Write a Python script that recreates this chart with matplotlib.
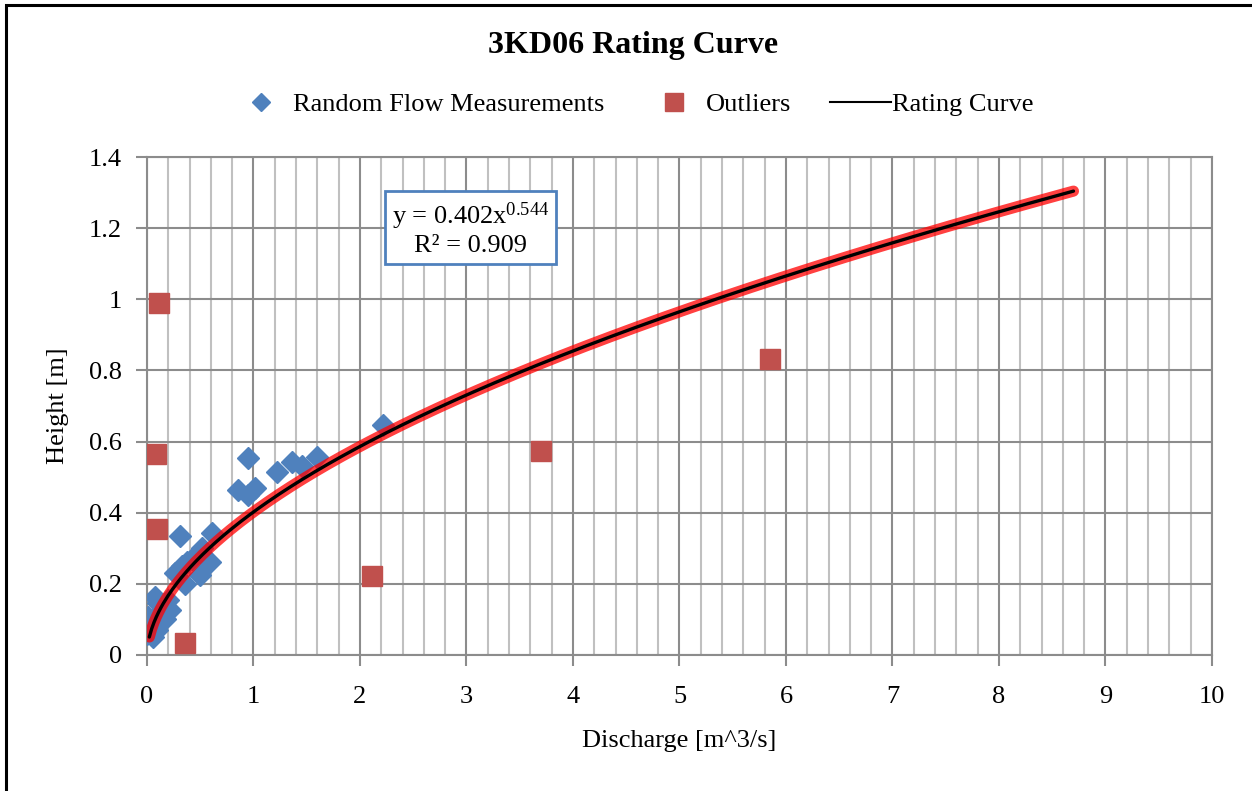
import numpy as np
import matplotlib
matplotlib.use("Agg")
import matplotlib.pyplot as plt
from matplotlib.patches import Rectangle
from matplotlib.lines import Line2D

plt.rcParams['font.family'] = ['Liberation Serif', 'DejaVu Serif']
plt.rcParams['mathtext.fontset'] = 'custom'
plt.rcParams['mathtext.rm'] = 'Liberation Serif'
plt.rcParams['mathtext.it'] = 'Liberation Serif:italic'

# random flow measurements (discharge m^3/s, height m)
meas_q = [0.00, 0.01, 0.03, 0.06, 0.09, 0.075, 0.10, 0.12, 0.17, 0.20, 0.22,
          0.26, 0.33, 0.36, 0.31, 0.38, 0.42, 0.50, 0.52, 0.59, 0.61,
          0.85, 0.95, 1.01, 0.95, 1.22, 1.36, 1.46, 1.60, 2.22]
meas_h = [0.06, 0.107, 0.08, 0.05, 0.07, 0.163, 0.146, 0.12, 0.10, 0.155, 0.127,
          0.23, 0.25, 0.20, 0.335, 0.26, 0.27, 0.225, 0.30, 0.26, 0.343,
          0.464, 0.45, 0.47, 0.555, 0.515, 0.543, 0.53, 0.557, 0.647]

# outliers
out_q = [0.11, 0.085, 0.09, 0.36, 2.11, 3.70, 5.85]
out_h = [0.99, 0.566, 0.355, 0.034, 0.222, 0.574, 0.832]

# power trendline shown on the chart
coef_a = 0.402
coef_b = 0.544
q_min, q_max = 0.022, 8.70

fig = plt.figure(figsize=(12.52, 7.91), dpi=100)
ax = fig.add_axes([0.1174, 0.172, 0.8506, 0.6295])

q = np.linspace(q_min, q_max, 400)
h = coef_a * q ** coef_b
ax.plot(q, h, color='#ff0000', lw=8, alpha=0.75, solid_capstyle='round', zorder=4)
ax.plot(q, h, color='black', lw=2.4, solid_capstyle='round', zorder=5)

ax.plot(meas_q, meas_h, 'D', color='#4F81BD', ms=11, mec='#4F81BD', ls='none', zorder=3)
ax.plot(out_q, out_h, 's', color='#C0504D', ms=14, mec='#C0504D', ls='none', zorder=3)

ax.set_xlim(0, 10)
ax.set_ylim(0, 1.4)
ax.set_xticks(np.arange(0, 11, 1))
ax.set_xticks(np.arange(0, 10.01, 0.2), minor=True)
ax.set_yticks(np.arange(0, 1.41, 0.2))
ax.set_yticklabels(['0', '0.2', '0.4', '0.6', '0.8', '1', '1.2', '1.4'])
ax.grid(which='major', axis='both', color='#8c8c8c', lw=1.5)
ax.grid(which='minor', axis='x', color='#c0c0c0', lw=1.5)
ax.set_axisbelow(True)
ax.tick_params(which='major', length=8, width=1.5, color='#8c8c8c', labelsize=19, pad=14)
ax.tick_params(which='minor', length=0)
ax.tick_params(axis='y', pad=10)
for s in ax.spines.values():
    s.set_color('#8c8c8c')
    s.set_linewidth(1.5)

ax.set_xlabel('Discharge [m^3/s]', fontsize=19, labelpad=16)
ax.set_ylabel('Height [m]', fontsize=19, labelpad=14)

fig.text(0.506, 0.943, '3KD06 Rating Curve', ha='center', va='center',
         fontsize=23, fontweight='bold')

ax.text(3.04, 1.198, 'y = 0.402x$^{0.544}$\nR² = 0.909', ha='center', va='center',
        fontsize=19, linespacing=1.2, zorder=6,
        bbox=dict(boxstyle='square,pad=0.25', fc='white', ec='#4F81BD', lw=2))

handles = [Line2D([], [], marker='D', color='#4F81BD', ls='none', ms=9),
           Line2D([], [], marker='s', color='#C0504D', ls='none', ms=13),
           Line2D([], [], color='black', lw=1.5)]
fig.legend(handles, ['Random Flow Measurements', 'Outliers', 'Rating Curve'],
           loc='center', bbox_to_anchor=(0.505, 0.868), ncol=3, frameon=False,
           fontsize=19, columnspacing=1.5, handletextpad=0.05, handlelength=2.3)

fig.patches.append(Rectangle((5.5 / 1252, -0.05), 1.1, 1.05 - 5.5 / 791,
                             transform=fig.transFigure, fill=False,
                             ec='black', lw=2.2))

fig.savefig('out.png', dpi=100)
